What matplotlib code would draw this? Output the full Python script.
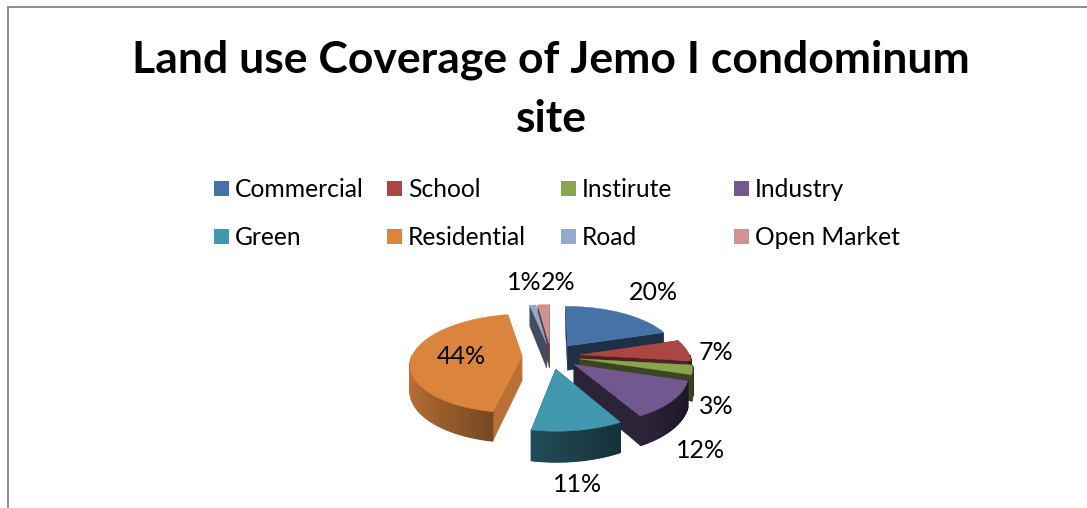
#!/usr/bin/env python
import numpy as np
import matplotlib
matplotlib.use('Agg')
import matplotlib.pyplot as plt
from matplotlib.colors import to_rgb
from matplotlib.patches import Polygon, Rectangle

plt.rcParams['font.family'] = ['Lato', 'DejaVu Sans']

title_lines = ['Land use Coverage of Jemo I condominum', 'site']
categories = ['Commercial', 'School', 'Instirute', 'Industry',
              'Green', 'Residential', 'Road', 'Open Market']
shares = [20, 7, 3, 12, 11, 44, 1, 2]
colors = ['#4572A7', '#AA4643', '#89A54E', '#71588F',
          '#4198AF', '#DB843D', '#93A9CF', '#D19392']
side_shade = [0.42, 0.48, 0.42, 0.40, 0.50, 0.85, 0.45, 0.45]

label_xy = [(653, 292), (716, 352), (716, 406), (701, 450),
            (578, 484), (461, 355), (524, 281), (558, 281)]

# pie geometry, in figure pixels
CX, CY = 551, 356
RADIUS = 110
SQUASH = 0.44
PERSP = 0.15
DEPTH = 25
EXPLODE = 29


def project(x, y, z=0.0):
    """Perspective projection of a point on the pie plane, y pointing to the back"""
    s = 1.0 / (1.0 + PERSP * y / RADIUS)
    return CX + x * s, CY - y * SQUASH * s + z * DEPTH * s


def shade(color, f):
    return tuple(min(1.0, c * f) for c in to_rgb(color))


def draw_slice(ax, start, stop, color, side, z):
    """Draws one exploded slice, start and stop in degrees clockwise from the top"""
    mid = np.radians((start + stop) / 2)
    ox, oy = EXPLODE * np.sin(mid), EXPLODE * np.cos(mid)
    angles = np.radians(np.linspace(start, stop, 60))
    rim = [(ox + RADIUS * np.sin(a), oy + RADIUS * np.cos(a)) for a in angles]
    apex = (ox, oy)

    # the two cut faces
    for edge in (rim[0], rim[-1]):
        quad = [project(*apex), project(*edge), project(*edge, 1), project(*apex, 1)]
        ax.add_patch(Polygon(quad, fc=shade(color, side), ec=shade(color, side),
                             lw=0.3, zorder=z))

    # outer wall, darkening from left to right across the slice
    xs = [p[0] for p in rim]
    lo, hi = min(xs), max(xs)
    for p, q in zip(rim[:-1], rim[1:]):
        if p[1] - oy > 0 and q[1] - oy > 0:
            continue
        t = (p[0] - lo) / max(hi - lo, 1)
        fc = shade(color, side * (1.0 - 0.35 * t))
        quad = [project(*p), project(*q), project(*q, 1), project(*p, 1)]
        ax.add_patch(Polygon(quad, fc=fc, ec=fc, lw=0.9, zorder=z))

    top = [project(*apex)] + [project(*p) for p in rim]
    ax.add_patch(Polygon(top, fc=color, ec=color, lw=0.3, zorder=z + 0.5))


fig = plt.figure(figsize=(10.87, 5.08), dpi=100)
ax = fig.add_axes([0, 0, 1, 1])
ax.set_xlim(0, 1087)
ax.set_ylim(508, 0)
ax.axis('off')

# chart frame runs off the bottom and right of the canvas
ax.add_patch(Rectangle((8, 6.5), 1200, 600, fc='white', ec='#8c8c8c', lw=1.4))

title_y = [60, 119]
for line, y in zip(title_lines, title_y):
    ax.text(551, y, line, ha='center', va='center',
            fontsize=32, fontweight='bold', color='black')

legend_x = [214, 387, 561, 734]
legend_y = [188.5, 236.5]
for i, (name, color) in enumerate(zip(categories, colors)):
    x, y = legend_x[i % 4], legend_y[i // 4]
    ax.add_patch(Rectangle((x, y - 7.5), 15, 15, fc=color, ec='none'))
    ax.text(x + 21, y + 1, name, ha='left', va='center', fontsize=17.7, color='black')

# slices, back ones first so that the nearer ones overlap them
edges = np.cumsum([0] + shares) * 3.6
order = np.argsort(-np.cos(np.radians((edges[:-1] + edges[1:]) / 2)))
for z, i in enumerate(order):
    draw_slice(ax, edges[i], edges[i + 1], colors[i], side_shade[i], 2 + z)

for share, (x, y) in zip(shares, label_xy):
    ax.text(x, y + 1, '{}%'.format(share), ha='center', va='center',
            fontsize=18, color='black', zorder=20)

fig.savefig('out.png', dpi=100)
